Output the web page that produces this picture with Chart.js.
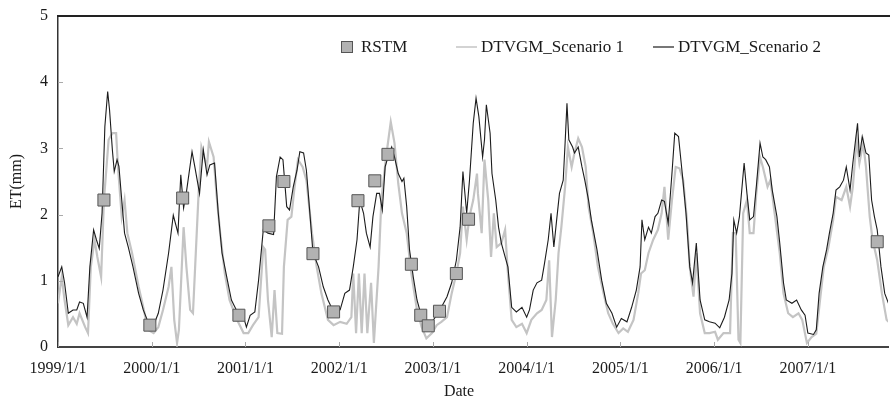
<!DOCTYPE html>
<html>
<head>
<meta charset="utf-8">
<script src="https://cdn.jsdelivr.net/npm/chart.js@4"></script>
<style>
    body { margin: 0; background: #fff; }
</style>
</head>
<body>
<canvas id="etChart" width="890" height="400"></canvas>
<script>
// x values are decimal years (1999.5 = mid 1999)
const tickYears = [1999, 2000, 2001, 2002, 2003, 2004, 2005, 2006, 2007];
const tickLabels = ["1999/1/1", "2000/1/1", "2001/1/1", "2002/1/1", "2003/1/1", "2004/1/1", "2005/1/1", "2006/1/1", "2007/1/1"];

const rstmYears = [1999.49, 1999.98, 2000.33, 2000.93, 2001.25, 2001.41, 2001.72, 2001.94, 2002.20, 2002.38, 2002.52, 2002.77, 2002.87, 2002.95, 2003.07, 2003.25, 2003.38, 2007.74];
const rstmValues = [2.22, 0.33, 2.25, 0.48, 1.83, 2.50, 1.41, 0.53, 2.21, 2.51, 2.91, 1.25, 0.48, 0.32, 0.54, 1.11, 1.93, 1.59];

const scenario1Years = [
    1999.00, 1999.04, 1999.07, 1999.11, 1999.16, 1999.20, 1999.23, 1999.29, 1999.32, 1999.35, 1999.39, 1999.42, 1999.46, 1999.49, 1999.54, 1999.58, 1999.62, 1999.64, 1999.68, 1999.71, 1999.74, 1999.79, 1999.86, 1999.91, 1999.96,
    2000.02, 2000.07, 2000.12, 2000.18, 2000.21, 2000.24, 2000.27, 2000.29, 2000.34, 2000.37, 2000.41, 2000.44, 2000.48, 2000.50, 2000.53, 2000.56, 2000.59, 2000.61, 2000.66, 2000.69, 2000.73, 2000.78, 2000.83, 2000.91, 2000.98,
    2001.03, 2001.08, 2001.14, 2001.19, 2001.21, 2001.24, 2001.28, 2001.31, 2001.34, 2001.39, 2001.41, 2001.45, 2001.49, 2001.52, 2001.56, 2001.61, 2001.65, 2001.71, 2001.76, 2001.81, 2001.88, 2001.94,
    2002.01, 2002.08, 2002.13, 2002.15, 2002.18, 2002.21, 2002.24, 2002.27, 2002.30, 2002.34, 2002.37, 2002.42, 2002.45, 2002.50, 2002.55, 2002.59, 2002.63, 2002.67, 2002.72, 2002.77, 2002.83, 2002.88, 2002.93, 2002.99,
    2003.04, 2003.09, 2003.15, 2003.20, 2003.25, 2003.29, 2003.32, 2003.36, 2003.39, 2003.43, 2003.47, 2003.48, 2003.52, 2003.55, 2003.59, 2003.62, 2003.65, 2003.68, 2003.73, 2003.77, 2003.80, 2003.84, 2003.89, 2003.95,
    2004.00, 2004.05, 2004.11, 2004.16, 2004.21, 2004.24, 2004.27, 2004.31, 2004.34, 2004.37, 2004.41, 2004.44, 2004.48, 2004.51, 2004.55, 2004.59, 2004.63, 2004.66, 2004.71, 2004.76, 2004.82, 2004.87, 2004.92, 2004.98,
    2005.03, 2005.08, 2005.14, 2005.19, 2005.22, 2005.26, 2005.30, 2005.35, 2005.40, 2005.44, 2005.47, 2005.51, 2005.55, 2005.59, 2005.63, 2005.67, 2005.71, 2005.74, 2005.78, 2005.81, 2005.85, 2005.90, 2005.95,
    2006.01, 2006.04, 2006.10, 2006.17, 2006.20, 2006.23, 2006.26, 2006.28, 2006.31, 2006.35, 2006.38, 2006.42, 2006.45, 2006.49, 2006.52, 2006.57, 2006.60, 2006.65, 2006.70, 2006.74, 2006.79, 2006.84, 2006.90, 2006.94, 2006.99,
    2007.04, 2007.09, 2007.13, 2007.17, 2007.22, 2007.27, 2007.30, 2007.36, 2007.41, 2007.45, 2007.48, 2007.52, 2007.55, 2007.59, 2007.62, 2007.66, 2007.69, 2007.74, 2007.79, 2007.84, 2007.86
];
const scenario1Values = [
    0.66, 1.06, 0.71, 0.33, 0.45, 0.35, 0.51, 0.30, 0.21, 1.21, 1.62, 1.36, 1.06, 2.22, 3.13, 3.23, 3.23, 2.72, 1.97, 2.22, 1.72, 1.42, 0.91, 0.60, 0.26,
    0.21, 0.30, 0.56, 0.91, 1.21, 0.41, 0.06, 0.26, 1.81, 1.21, 0.56, 0.51, 1.72, 2.32, 3.02, 2.87, 2.72, 3.10, 2.87, 2.32, 1.72, 1.11, 0.71, 0.41, 0.21,
    0.21, 0.33, 0.45, 1.51, 1.47, 0.71, 0.15, 0.86, 0.21, 0.20, 1.21, 1.92, 1.97, 2.37, 2.83, 2.72, 2.52, 1.72, 1.21, 0.81, 0.41, 0.33,
    0.38, 0.35, 0.45, 1.11, 0.21, 1.11, 0.21, 1.11, 0.21, 0.97, 0.06, 1.21, 2.22, 2.87, 3.40, 3.08, 2.47, 2.02, 1.72, 1.11, 0.56, 0.30, 0.13, 0.21,
    0.33, 0.38, 0.45, 0.81, 1.11, 1.42, 2.12, 1.62, 1.97, 2.22, 2.62, 2.32, 1.72, 2.83, 2.22, 1.36, 2.02, 1.51, 1.57, 1.77, 1.11, 0.41, 0.30, 0.35,
    0.21, 0.41, 0.51, 0.56, 0.71, 1.31, 0.15, 0.71, 1.42, 1.81, 2.42, 3.02, 2.72, 2.93, 3.15, 3.02, 2.72, 2.12, 1.72, 1.21, 0.81, 0.51, 0.35, 0.21,
    0.28, 0.23, 0.41, 0.81, 1.11, 1.16, 1.42, 1.62, 1.77, 2.02, 2.42, 1.62, 2.22, 2.72, 2.70, 2.52, 1.92, 1.21, 0.76, 1.42, 0.51, 0.21, 0.21,
    0.23, 0.11, 0.21, 0.21, 1.72, 1.72, 0.11, 0.06, 2.02, 2.22, 1.72, 1.72, 2.32, 2.87, 2.72, 2.42, 2.52, 1.97, 1.42, 0.81, 0.51, 0.45, 0.51, 0.41, 0.06,
    0.15, 0.20, 0.71, 1.21, 1.51, 1.92, 2.27, 2.22, 2.42, 2.12, 2.42, 3.13, 2.78, 3.08, 2.72, 1.97, 1.62, 1.31, 0.81, 0.41, 0.38
];

const scenario2Years = [
    1999.00, 1999.04, 1999.07, 1999.11, 1999.16, 1999.20, 1999.23, 1999.27, 1999.31, 1999.34, 1999.38, 1999.41, 1999.44, 1999.47, 1999.50, 1999.53, 1999.55, 1999.58, 1999.60, 1999.63, 1999.65, 1999.68, 1999.71, 1999.75, 1999.80, 1999.86, 1999.91, 1999.96,
    2000.02, 2000.07, 2000.12, 2000.18, 2000.23, 2000.28, 2000.31, 2000.34, 2000.37, 2000.43, 2000.46, 2000.51, 2000.55, 2000.59, 2000.62, 2000.67, 2000.71, 2000.75, 2000.80, 2000.85, 2000.92, 2000.98,
    2001.01, 2001.05, 2001.10, 2001.14, 2001.19, 2001.24, 2001.30, 2001.33, 2001.37, 2001.40, 2001.44, 2001.47, 2001.51, 2001.55, 2001.58, 2001.62, 2001.65, 2001.69, 2001.72, 2001.78, 2001.83, 2001.88, 2001.94,
    2002.01, 2002.06, 2002.11, 2002.15, 2002.19, 2002.22, 2002.26, 2002.29, 2002.33, 2002.36, 2002.40, 2002.43, 2002.46, 2002.49, 2002.52, 2002.56, 2002.59, 2002.63, 2002.67, 2002.69, 2002.72, 2002.75, 2002.79, 2002.83, 2002.88, 2002.93, 2002.99,
    2003.04, 2003.09, 2003.15, 2003.20, 2003.25, 2003.29, 2003.32, 2003.36, 2003.39, 2003.43, 2003.46, 2003.49, 2003.53, 2003.55, 2003.57, 2003.61, 2003.63, 2003.67, 2003.70, 2003.73, 2003.77, 2003.80, 2003.84, 2003.89, 2003.95,
    2004.00, 2004.03, 2004.07, 2004.11, 2004.16, 2004.19, 2004.23, 2004.26, 2004.29, 2004.32, 2004.35, 2004.39, 2004.41, 2004.43, 2004.45, 2004.49, 2004.51, 2004.55, 2004.59, 2004.62, 2004.66, 2004.69, 2004.75, 2004.80, 2004.85, 2004.91, 2004.96,
    2005.01, 2005.07, 2005.12, 2005.17, 2005.21, 2005.23, 2005.26, 2005.30, 2005.33, 2005.37, 2005.40, 2005.44, 2005.47, 2005.51, 2005.55, 2005.58, 2005.62, 2005.66, 2005.70, 2005.74, 2005.77, 2005.81, 2005.85, 2005.90, 2005.95,
    2006.01, 2006.06, 2006.11, 2006.16, 2006.19, 2006.21, 2006.24, 2006.27, 2006.32, 2006.35, 2006.38, 2006.42, 2006.45, 2006.49, 2006.52, 2006.55, 2006.59, 2006.62, 2006.67, 2006.70, 2006.74, 2006.77, 2006.83, 2006.88, 2006.93, 2006.97,
    2007.00, 2007.06, 2007.09, 2007.12, 2007.16, 2007.20, 2007.23, 2007.27, 2007.30, 2007.34, 2007.38, 2007.41, 2007.45, 2007.48, 2007.53, 2007.55, 2007.58, 2007.62, 2007.65, 2007.68, 2007.71, 2007.74, 2007.78, 2007.82, 2007.86
];
const scenario2Values = [
    1.06, 1.21, 0.97, 0.51, 0.56, 0.56, 0.68, 0.66, 0.45, 1.21, 1.77, 1.62, 1.49, 2.02, 3.33, 3.86, 3.58, 2.98, 2.65, 2.83, 2.73, 2.22, 1.72, 1.51, 1.21, 0.81, 0.56, 0.38,
    0.33, 0.51, 0.86, 1.42, 1.99, 1.72, 2.60, 2.10, 2.34, 2.95, 2.72, 2.32, 2.98, 2.60, 2.75, 2.78, 2.02, 1.42, 1.06, 0.71, 0.51, 0.45,
    0.30, 0.48, 0.53, 1.01, 1.77, 1.72, 1.70, 2.57, 2.87, 2.83, 2.12, 2.07, 2.42, 2.67, 2.95, 2.93, 2.67, 1.97, 1.42, 1.21, 0.91, 0.71, 0.53,
    0.56, 0.81, 0.86, 1.21, 1.62, 2.22, 2.02, 1.72, 1.51, 1.97, 2.32, 2.32, 2.07, 2.72, 2.87, 3.02, 2.87, 2.62, 2.50, 2.55, 2.12, 1.47, 1.06, 0.71, 0.45, 0.33, 0.38,
    0.48, 0.60, 0.76, 0.97, 1.31, 1.81, 2.65, 2.02, 2.52, 3.38, 3.76, 3.48, 2.87, 3.13, 3.66, 3.23, 2.62, 2.22, 1.81, 1.57, 1.36, 1.21, 0.60, 0.53, 0.60,
    0.45, 0.56, 0.86, 0.97, 1.01, 1.26, 1.62, 2.02, 1.51, 1.92, 2.32, 2.52, 3.08, 3.68, 3.13, 3.02, 2.93, 3.02, 2.72, 2.52, 2.22, 1.92, 1.47, 1.01, 0.66, 0.51, 0.30,
    0.43, 0.38, 0.60, 0.86, 1.21, 1.92, 1.62, 1.81, 1.72, 1.97, 2.02, 2.22, 2.20, 1.87, 2.62, 3.23, 3.18, 2.62, 2.02, 1.21, 0.97, 1.57, 0.71, 0.41, 0.38,
    0.36, 0.29, 0.45, 0.71, 1.11, 1.92, 1.72, 1.97, 2.78, 2.32, 1.92, 1.97, 2.42, 3.08, 2.87, 2.83, 2.72, 2.37, 1.97, 1.57, 0.97, 0.71, 0.66, 0.71, 0.56, 0.48,
    0.21, 0.19, 0.26, 0.81, 1.21, 1.47, 1.72, 2.02, 2.37, 2.42, 2.52, 2.72, 2.37, 2.78, 3.38, 2.87, 3.18, 2.93, 2.90, 2.22, 1.97, 1.77, 1.21, 0.81, 0.66
];

const serif = "'Liberation Serif', 'Times New Roman', serif";
const textColor = "#1a1a1a";

const toPoints = (xs, ys) => xs.map((x, i) => ({ x: x, y: ys[i] }));

// top frame line, small inward ticks, "Date" caption and the in-plot legend
const framePlugin = {
    id: "frame",
    afterDraw(chart) {
        const ctx = chart.ctx;
        const area = chart.chartArea;
        const xScale = chart.scales.x;
        const yScale = chart.scales.y;

        ctx.save();
        ctx.strokeStyle = "#222";
        ctx.lineWidth = 2;
        ctx.beginPath();
        ctx.moveTo(area.left - 1, area.top);
        ctx.lineTo(area.right + 2, area.top);
        ctx.stroke();

        ctx.strokeStyle = "#aaa";
        ctx.lineWidth = 1;
        tickYears.forEach((yr) => {
            const px = Math.round(xScale.getPixelForValue(yr)) + 0.5;
            ctx.beginPath();
            ctx.moveTo(px, area.bottom);
            ctx.lineTo(px, area.bottom - 5);
            ctx.stroke();
        });
        [1, 2, 3, 4].forEach((v) => {
            const py = Math.round(yScale.getPixelForValue(v)) + 0.5;
            ctx.beginPath();
            ctx.moveTo(area.left, py);
            ctx.lineTo(area.left + 5, py);
            ctx.stroke();
        });

        // x axis caption sits a little left of centre in the original
        ctx.font = "16px " + serif;
        ctx.fillStyle = textColor;
        ctx.textAlign = "center";
        ctx.textBaseline = "middle";
        ctx.fillText("Date", 459, 392);

        // legend
        const ly = 48;
        const ds = chart.data.datasets;
        ctx.font = "17px " + serif;
        ctx.textAlign = "left";

        ctx.fillStyle = ds[0].backgroundColor;
        ctx.strokeStyle = ds[0].borderColor;
        ctx.lineWidth = 1;
        ctx.fillRect(341.5, ly - 6.5, 11, 11);
        ctx.strokeRect(341.5, ly - 6.5, 11, 11);
        ctx.fillStyle = textColor;
        ctx.fillText(ds[0].label, 361, ly);

        ctx.strokeStyle = ds[1].borderColor;
        ctx.lineWidth = 1.5;
        ctx.beginPath();
        ctx.moveTo(456, ly - 1);
        ctx.lineTo(477, ly - 1);
        ctx.stroke();
        ctx.fillText(ds[1].label, 481, ly);

        ctx.strokeStyle = ds[2].borderColor;
        ctx.lineWidth = 1.2;
        ctx.beginPath();
        ctx.moveTo(653, ly - 1);
        ctx.lineTo(674, ly - 1);
        ctx.stroke();
        ctx.fillText(ds[2].label, 678, ly);
        ctx.restore();
    }
};

new Chart(document.getElementById("etChart"), {
    type: "line",
    data: {
        datasets: [
            {
                label: "RSTM",
                data: toPoints(rstmYears, rstmValues),
                showLine: false,
                pointStyle: "rect",
                pointRadius: 8.5,
                backgroundColor: "#b2b2b2",
                borderColor: "#555",
                borderWidth: 1,
                order: 0
            },
            {
                label: "DTVGM_Scenario 1",
                data: toPoints(scenario1Years, scenario1Values),
                borderColor: "#c4c4c4",
                borderWidth: 2.2,
                pointRadius: 0,
                tension: 0,
                order: 2
            },
            {
                label: "DTVGM_Scenario 2",
                data: toPoints(scenario2Years, scenario2Values),
                borderColor: "#1c1c1c",
                borderWidth: 1.1,
                pointRadius: 0,
                tension: 0,
                order: 1
            }
        ]
    },
    options: {
        responsive: false,
        animation: false,
        layout: { autoPadding: false, padding: { top: 16, right: 2, left: 0, bottom: 0 } },
        plugins: {
            legend: { display: false },
            tooltip: { enabled: false }
        },
        scales: {
            x: {
                type: "linear",
                min: 1999,
                max: 2007.855,
                afterBuildTicks: (scale) => {
                    scale.ticks = tickYears.map((v) => ({ value: v }));
                },
                afterFit: (scale) => {
                    scale.height = 53;
                    scale.paddingLeft = 0;
                    scale.paddingRight = 0;
                },
                ticks: {
                    callback: (value, index) => tickLabels[index],
                    autoSkip: false,
                    maxRotation: 0,
                    padding: 12,
                    color: textColor,
                    font: { family: serif, size: 16 }
                },
                grid: { display: false, drawTicks: false },
                border: { display: true, color: "#444", width: 2 },
                title: { display: false }
            },
            y: {
                min: 0,
                max: 5,
                afterFit: (scale) => {
                    scale.width = 58;
                    scale.paddingTop = 0;
                    scale.paddingBottom = 0;
                },
                ticks: {
                    stepSize: 1,
                    padding: 10,
                    color: textColor,
                    font: { family: serif, size: 16 }
                },
                grid: { display: false, drawTicks: false },
                border: { display: true, color: "#333", width: 1.5 },
                title: {
                    display: true,
                    text: "ET(mm)",
                    color: textColor,
                    font: { family: serif, size: 16 },
                    padding: { top: 7, bottom: 0 }
                }
            }
        }
    },
    plugins: [framePlugin]
});
</script>
</body>
</html>
